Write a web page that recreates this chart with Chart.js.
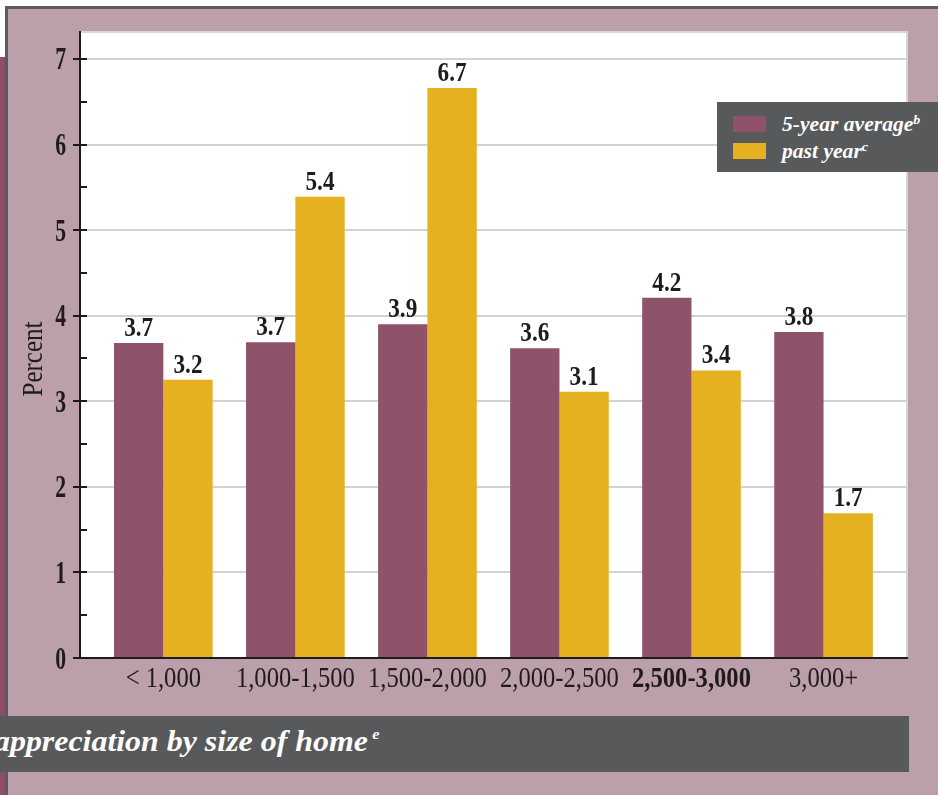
<!DOCTYPE html>
<html lang="en">
<head>
  <meta charset="UTF-8" />
  <meta name="viewport" content="width=device-width, initial-scale=1.0" />
  <title>Appreciation by size of home</title>
  <script src="https://cdn.jsdelivr.net/npm/chart.js"></script>
  <style>
    html, body { margin: 0; padding: 0; }
    body { width: 938px; height: 795px; background: #bb9faa; position: relative; overflow: hidden; font-family: 'Liberation Serif', serif; }
    .top-white { position: absolute; left: 0; top: 0; width: 938px; height: 6px; background: #fff; }
    .top-line { position: absolute; left: 5px; top: 6px; width: 933px; height: 3px; background: #5b5b5d; }
    .left-white { position: absolute; left: 0; top: 0; width: 5px; height: 57px; background: #fff; }
    .left-strip { position: absolute; left: 0; top: 57px; width: 5px; height: 738px; background: #8e4d69; }
    .left-line { position: absolute; left: 5px; top: 6px; width: 3px; height: 789px; background: #5b5b5d; }
    #wrap { position: absolute; left: 0; top: 0; width: 938px; height: 795px; }
    .caption { position: absolute; left: 0; top: 716px; width: 909px; height: 56px; background: #58595b; overflow: hidden; }
    .caption span { position: absolute; left: -6px; top: 9px; color: #fff; font: italic bold 29px 'Liberation Serif', serif; white-space: nowrap; transform: scaleX(1.1); transform-origin: left center; }
    .caption sup { font-size: 15px; vertical-align: 12px; margin-left: 4px; }
    .legend { position: absolute; left: 717px; top: 102px; width: 221px; height: 70px; background: #58595b; }
    .legend .row { position: absolute; left: 16px; height: 16px; display: flex; align-items: center; white-space: nowrap; }
    .legend .sw { width: 33px; height: 16px; margin-right: 16px; }
    .legend .txt { color: #fff; font: italic bold 20px 'Liberation Serif', serif; transform: scaleX(1.08); transform-origin: left center; }
    .legend sup { font-size: 13px; vertical-align: 7px; }
  </style>
</head>
<body>
  <div class="top-white"></div>
  <div class="left-white"></div>
  <div class="left-strip"></div>
  <div class="left-line"></div>
  <div class="top-line"></div>

  <div id="wrap"><canvas id="chart"></canvas></div>

  <div class="legend" id="legend"></div>

  <div class="caption"><span>appreciation by size of home<sup>e</sup></span></div>

  <script>
    const categories = ['< 1,000', '1,000-1,500', '1,500-2,000', '2,000-2,500', '2,500-3,000', '3,000+'];
    const seriesNames = ['5-year average', 'past year'];
    const seriesNotes = ['b', 'c'];
    const fiveYearAvg = [3.68, 3.69, 3.90, 3.62, 4.21, 3.81];
    const pastYear = [3.25, 5.39, 6.66, 3.11, 3.36, 1.69];
    const fiveYearLabels = ['3.7', '3.7', '3.9', '3.6', '4.2', '3.8'];
    const pastYearLabels = ['3.2', '5.4', '6.7', '3.1', '3.4', '1.7'];
    const yTicks = [0, 1, 2, 3, 4, 5, 6, 7];
    const yTitle = 'Percent';

    const colors = ['#8f526b', '#e5b121'];
    const valueLabels = [fiveYearLabels, pastYearLabels];
    const ink = '#1f1b1c';

    // legend box (html, built from the series names)
    const legendEl = document.getElementById('legend');
    seriesNames.forEach((name, i) => {
      const row = document.createElement('div');
      row.className = 'row';
      row.style.top = (14 + i * 27) + 'px';
      row.innerHTML = '<div class="sw" style="background:' + colors[i] + '"></div>' +
        '<span class="txt">' + name + '<sup>' + seriesNotes[i] + '</sup></span>';
      legendEl.appendChild(row);
    });

    // draw text squeezed horizontally (the original uses a condensed face)
    function squeezeText(ctx, text, x, y, font, sx, align) {
      ctx.save();
      ctx.font = font;
      ctx.fillStyle = ink;
      ctx.textAlign = 'left';
      ctx.textBaseline = 'alphabetic';
      const w = ctx.measureText(text).width * sx;
      let left = x;
      if (align === 'center') left = x - w / 2;
      if (align === 'right') left = x - w;
      ctx.translate(left, y);
      ctx.scale(sx, 1);
      ctx.fillText(text, 0, 0);
      ctx.restore();
    }

    const plotDecor = {
      id: 'plotDecor',
      beforeDraw(chart) {
        const { ctx, chartArea: a } = chart;
        ctx.save();
        ctx.fillStyle = '#ffffff';
        ctx.fillRect(a.left, a.top, a.right - a.left, a.bottom - a.top);
        ctx.strokeStyle = '#d6d6d6';
        ctx.lineWidth = 2;
        ctx.beginPath();
        ctx.moveTo(a.left, a.top);
        ctx.lineTo(a.right, a.top);
        ctx.lineTo(a.right, a.bottom);
        ctx.stroke();
        ctx.restore();
      },
      afterDatasetsDraw(chart) {
        const ctx = chart.ctx;
        chart.data.datasets.forEach((ds, di) => {
          chart.getDatasetMeta(di).data.forEach((bar, i) => {
            squeezeText(ctx, valueLabels[di][i], bar.x, bar.y - 7, 'bold 27px "Liberation Serif"', 0.86, 'center');
          });
        });
      },
      afterDraw(chart) {
        const { ctx, chartArea: a } = chart;
        const ys = chart.scales.y;
        const xs = chart.scales.x;

        // short inner ticks every half unit
        ctx.save();
        ctx.strokeStyle = ink;
        ctx.lineWidth = 2;
        for (let v = 0; v <= yTicks[yTicks.length - 1]; v += 0.5) {
          const py = Math.round(ys.getPixelForValue(v));
          ctx.beginPath();
          ctx.moveTo(a.left, py);
          ctx.lineTo(a.left + 7, py);
          ctx.stroke();
        }
        ctx.restore();

        yTicks.forEach(v => {
          squeezeText(ctx, String(v), a.left - 14, ys.getPixelForValue(v) + 10.5, 'bold 31px "Liberation Serif"', 0.7, 'right');
        });

        categories.forEach((c, i) => {
          const weight = i === 4 ? 'bold ' : '500 ';
          squeezeText(ctx, c, xs.getPixelForValue(i), a.bottom + 29, weight + '30px "Liberation Serif"', 0.82, 'center');
        });

        ctx.save();
        ctx.translate(42, (a.top + a.bottom) / 2 + 14);
        ctx.rotate(-Math.PI / 2);
        squeezeText(ctx, yTitle, 0, 0, '29px "Liberation Serif"', 0.86, 'center');
        ctx.restore();
      }
    };

    new Chart(document.getElementById('chart'), {
      type: 'bar',
      data: {
        datasets: [
          {
            label: seriesNames[0],
            data: fiveYearAvg.map((v, i) => ({ x: i, y: v })),
            backgroundColor: colors[0],
            borderWidth: 0
          },
          {
            label: seriesNames[1],
            data: pastYear.map((v, i) => ({ x: i, y: v })),
            backgroundColor: colors[1],
            borderWidth: 0
          }
        ]
      },
      options: {
        responsive: true,
        maintainAspectRatio: false,
        animation: false,
        layout: { padding: { top: 32, right: 31, left: 0, bottom: 87 } },
        datasets: { bar: { categoryPercentage: 0.747, barPercentage: 1 } },
        plugins: { legend: { display: false }, tooltip: { enabled: false } },
        scales: {
          x: {
            type: 'linear',
            offset: false,
            min: -0.631,
            max: 5.632,
            afterBuildTicks: s => { s.ticks = categories.map((c, i) => ({ value: i })); },
            afterFit: s => { s.height = 50; },
            ticks: { display: false },
            grid: { display: false },
            border: { display: true, color: ink, width: 2 }
          },
          y: {
            min: 0,
            max: 7.315,
            afterBuildTicks: s => { s.ticks = yTicks.map(v => ({ value: v })); },
            afterFit: s => { s.width = 80; },
            ticks: { display: false },
            grid: {
              color: c => (c.tick && c.tick.value === 0) ? 'rgba(0,0,0,0)' : '#d2d2d2',
              lineWidth: 2,
              drawTicks: true,
              tickLength: 7,
              tickColor: ink,
              tickWidth: 2
            },
            border: { display: true, color: ink, width: 2 }
          }
        }
      },
      plugins: [plotDecor]
    });
  </script>
</body>
</html>
